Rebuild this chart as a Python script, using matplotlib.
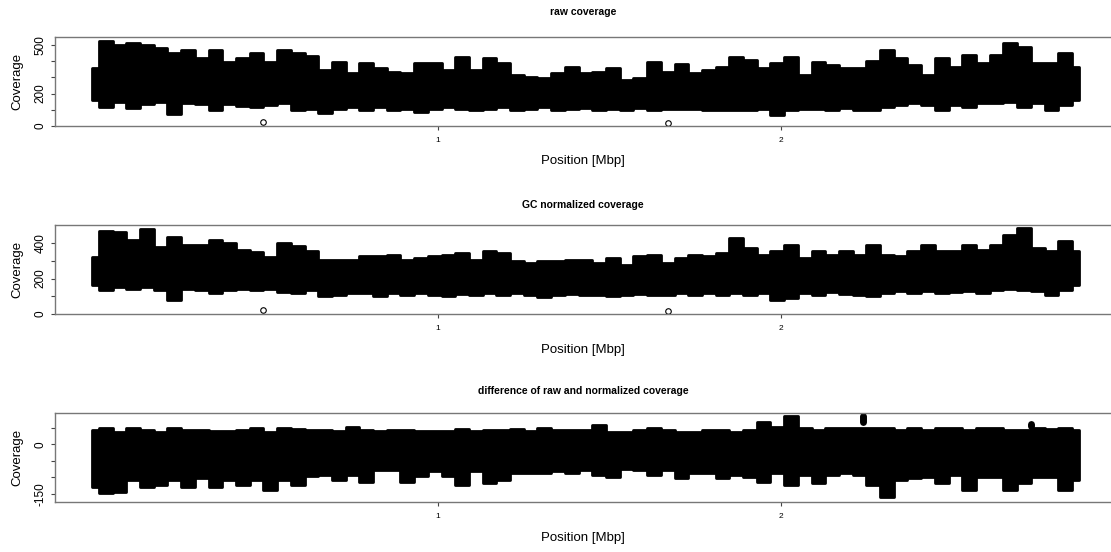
import numpy as np
import matplotlib.pyplot as plt

plt.rcParams['font.family'] = ['Liberation Sans', 'DejaVu Sans']

# bin centres along the genome [Mbp]
pos = [-0.01, 0.03, 0.07, 0.11, 0.15, 0.19, 0.23, 0.27,
       0.31, 0.35, 0.39, 0.43, 0.47, 0.51, 0.55, 0.59,
       0.63, 0.67, 0.71, 0.75, 0.79, 0.83, 0.87, 0.91,
       0.95, 0.99, 1.03, 1.07, 1.11, 1.15, 1.19, 1.23,
       1.27, 1.31, 1.35, 1.39, 1.43, 1.47, 1.51, 1.55,
       1.59, 1.63, 1.67, 1.71, 1.75, 1.79, 1.83, 1.87,
       1.91, 1.95, 1.99, 2.03, 2.07, 2.11, 2.15, 2.19,
       2.23, 2.27, 2.31, 2.35, 2.39, 2.43, 2.47, 2.51,
       2.55, 2.59, 2.63, 2.67, 2.71, 2.75, 2.79, 2.83,
       2.87]

# raw coverage: upper / lower envelope per bin
raw_hi = [360, 527, 500, 512, 500, 480, 450, 470,
          420, 470, 395, 420, 450, 395, 470, 450,
          430, 346, 397, 327, 389, 358, 335, 327,
          389, 389, 346, 428, 346, 420, 389, 315,
          304, 296, 327, 366, 327, 335, 358, 284,
          296, 397, 335, 380, 327, 346, 366, 428,
          407, 358, 389, 428, 315, 397, 377, 358,
          360, 400, 470, 418, 376, 315, 420, 366,
          438, 387, 438, 512, 490, 387, 387, 450,
          366]
raw_lo = [160, 117, 148, 110, 138, 148, 75, 140,
          136, 99, 136, 123, 117, 130, 140, 99,
          103, 78, 103, 119, 96, 119, 96, 103,
          88, 103, 119, 103, 96, 103, 119, 96,
          103, 119, 96, 103, 110, 96, 103, 96,
          110, 96, 103, 103, 103, 96, 96, 100,
          96, 103, 68, 96, 103, 103, 100, 110,
          100, 99, 117, 130, 140, 130, 99, 130,
          117, 140, 140, 148, 117, 140, 99, 130,
          160]

# GC normalized coverage
gc_hi = [320, 470, 465, 418, 480, 380, 436, 390,
         390, 418, 400, 362, 352, 324, 400, 385,
         354, 307, 307, 307, 326, 326, 335, 307,
         316, 326, 335, 345, 307, 354, 345, 298,
         288, 298, 298, 307, 307, 288, 316, 279,
         326, 335, 288, 316, 335, 326, 345, 429,
         373, 335, 354, 392, 316, 354, 335, 354,
         335, 392, 335, 326, 354, 392, 354, 354,
         392, 363, 392, 448, 486, 373, 354, 411,
         354]
gc_lo = [164, 136, 154, 144, 154, 136, 80, 144,
         136, 117, 136, 140, 136, 144, 127, 119,
         137, 100, 109, 119, 119, 100, 119, 109,
         119, 109, 100, 113, 109, 119, 105, 119,
         109, 94, 105, 113, 105, 109, 100, 105,
         113, 105, 109, 119, 109, 119, 109, 119,
         105, 119, 81, 90, 119, 109, 124, 113,
         105, 100, 119, 128, 119, 128, 119, 124,
         132, 119, 137, 143, 137, 132, 109, 137,
         165]

# difference raw - normalized
diff_hi = [44, 48, 38, 48, 44, 38, 48, 44,
           44, 41, 41, 44, 48, 38, 48, 46,
           43, 43, 40, 53, 43, 40, 43, 43,
           40, 40, 40, 46, 40, 43, 43, 46,
           40, 48, 43, 43, 43, 58, 38, 38,
           43, 48, 43, 38, 38, 43, 43, 38,
           43, 68, 53, 85, 48, 43, 48, 48,
           48, 48, 48, 43, 48, 43, 48, 48,
           43, 48, 48, 44, 44, 48, 45, 48,
           44]
diff_lo = [-128, -148, -143, -108, -128, -123, -108, -128,
           -103, -128, -108, -123, -108, -138, -108, -123,
           -97, -92, -108, -92, -113, -77, -77, -113,
           -97, -82, -97, -123, -82, -118, -108, -87,
           -87, -87, -82, -87, -77, -92, -98, -75,
           -78, -93, -78, -103, -88, -88, -103, -93,
           -98, -113, -88, -123, -93, -118, -93, -88,
           -93, -123, -160, -108, -103, -98, -118, -93,
           -138, -98, -100, -138, -118, -98, -98, -138,
           -108]

# isolated single bins
raw_out_pos = [0.49, 1.67]
raw_out_val = [23, 17]
gc_out_pos = [0.49, 1.67]
gc_out_val = [23, 17]
diff_blob_pos = [2.239, 2.731]
diff_blob_lo = [66, 56]
diff_blob_hi = [84, 60]

W, H = 1111, 552
fig = plt.figure(figsize=(W / 100, H / 100), dpi=100)

panels = [
    dict(hi=raw_hi, lo=raw_lo, title='raw coverage', top=37, bottom=126,
         ylim=(0, 549), yticks=[0, 100, 200, 300, 400, 500],
         ylabels=['0', '', '200', '', '', '500'],
         opos=raw_out_pos, oval=raw_out_val, title_y=12, xlab_y=161),
    dict(hi=gc_hi, lo=gc_lo, title='GC normalized coverage', top=225, bottom=314,
         ylim=(0, 503), yticks=[0, 100, 200, 300, 400],
         ylabels=['0', '', '200', '', '400'],
         opos=gc_out_pos, oval=gc_out_val, title_y=205, xlab_y=350),
    dict(hi=diff_hi, lo=diff_lo, title='difference of raw and normalized coverage',
         top=413, bottom=502, ylim=(-174, 94), yticks=[-150, -100, -50, 0, 50],
         ylabels=['-150', '', '', '0', ''],
         opos=None, oval=None, title_y=391, xlab_y=538),
]

left = 55
for p in panels:
    ax = fig.add_axes([left / W, 1 - p['bottom'] / H, (W - left + 1) / W,
                       (p['bottom'] - p['top']) / H])
    ax.fill_between(pos, p['lo'], p['hi'], step='mid', facecolor='black',
                    edgecolor='black', linewidth=2, joinstyle='round')
    if p['opos'] is not None:
        ax.plot(p['opos'], p['oval'], 'o', mfc='none', mec='black', ms=4, mew=0.8)
    else:
        ax.vlines(diff_blob_pos, diff_blob_lo, diff_blob_hi, color='black',
                  linewidth=5, capstyle='round')

    ax.set_xlim(-0.1183, 2.967)
    ax.set_ylim(*p['ylim'])
    ax.set_xticks([1, 2])
    ax.set_xticklabels(['1', '2'])
    ax.set_yticks(p['yticks'])
    ax.set_yticklabels(p['ylabels'])
    ax.tick_params(axis='x', labelsize=6, length=3, width=0.8, pad=5, color='#444444')
    ax.tick_params(axis='y', labelsize=8.5, length=3, width=0.8, pad=3,
                   color='#444444', labelrotation=90)
    for lab in ax.get_yticklabels():
        lab.set_va('center')
    for side in ['top', 'left', 'bottom']:
        ax.spines[side].set_color('#777777')
        ax.spines[side].set_linewidth(1.0)
    ax.spines['right'].set_visible(False)

    mid_y = (p['top'] + p['bottom']) / 2
    fig.text(583 / W, 1 - p['title_y'] / H, p['title'], ha='center', va='center',
             fontsize=7.5, fontweight='bold')
    fig.text(583 / W, 1 - p['xlab_y'] / H, 'Position [Mbp]', ha='center', va='center',
             fontsize=9.5)
    fig.text(17.5 / W, 1 - mid_y / H, 'Coverage', ha='center', va='center',
             rotation=90, fontsize=9.5)

fig.savefig('out.png', dpi=100)
